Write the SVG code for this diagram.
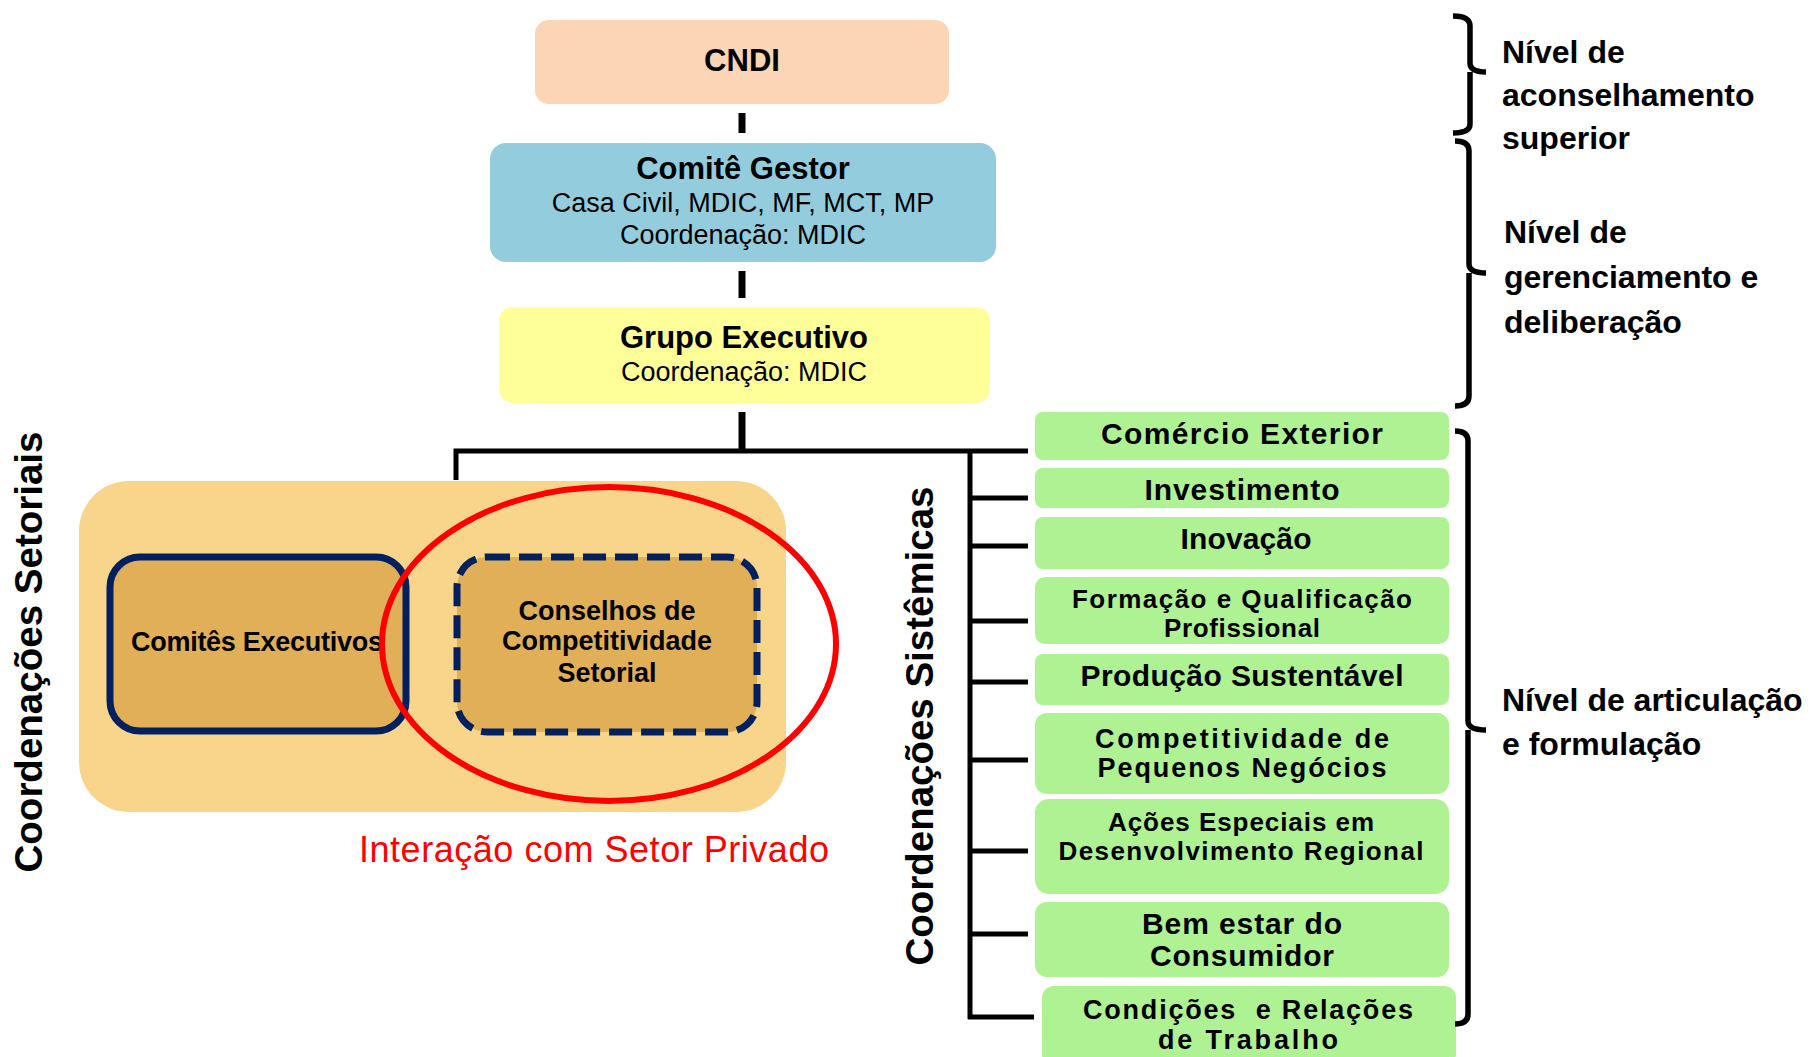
<svg xmlns="http://www.w3.org/2000/svg" width="1811" height="1057" viewBox="0 0 1811 1057">
<style>
text { font-family: "Liberation Sans", Arial, sans-serif; fill: #000; }
.title { font-size: 31px; font-weight: bold; text-anchor: middle; }
.sub { font-size: 27px; text-anchor: middle; }
.gt { font-size: 30px; font-weight: bold; text-anchor: middle; }
.g2 { font-size: 27px; font-weight: bold; text-anchor: middle; }
.gs { font-size: 26px; font-weight: bold; text-anchor: middle; }
.lvl { font-size: 32px; font-weight: bold; }
.inner { font-size: 27px; font-weight: bold; text-anchor: middle; }
.vert { font-size: 38px; font-weight: bold; text-anchor: middle; }
.green { fill: #AEF293; }
.brace { fill: none; stroke: #000; stroke-width: 5.5; stroke-linejoin: round; }
.conn { stroke: #000; fill: none; }
</style>
<rect width="1811" height="1057" fill="#FFFFFF"/>

<g id="connectors">
  <line class="conn" x1="742" y1="113" x2="742" y2="133" stroke-width="7"/>
  <line class="conn" x1="742" y1="271" x2="742" y2="298" stroke-width="7"/>
  <line class="conn" x1="742" y1="412" x2="742" y2="451" stroke-width="7"/>
  <polyline class="conn" points="456,480 456,451 1028,451" stroke-width="5"/>
  <line class="conn" x1="970" y1="451" x2="970" y2="1019" stroke-width="5"/>
  <line class="conn" x1="970" y1="498" x2="1028" y2="498" stroke-width="5"/>
  <line class="conn" x1="970" y1="546" x2="1028" y2="546" stroke-width="5"/>
  <line class="conn" x1="970" y1="621" x2="1028" y2="621" stroke-width="5"/>
  <line class="conn" x1="970" y1="682" x2="1028" y2="682" stroke-width="5"/>
  <line class="conn" x1="970" y1="760" x2="1028" y2="760" stroke-width="5"/>
  <line class="conn" x1="970" y1="851" x2="1028" y2="851" stroke-width="5"/>
  <line class="conn" x1="970" y1="934" x2="1028" y2="934" stroke-width="5"/>
  <line class="conn" x1="968" y1="1017" x2="1034" y2="1017" stroke-width="5"/>
  <line class="conn" x1="410" y1="644" x2="454" y2="644" stroke-width="1.5"/>
</g>

<g id="cndi">
  <rect x="535" y="20" width="414" height="84" rx="14" fill="#FBD5B5"/>
  <text class="title" x="742" y="71">CNDI</text>
</g>

<g id="comite-gestor">
  <rect x="490" y="143" width="506" height="119" rx="16" fill="#93CDDD"/>
  <text class="title" x="743" y="179">Comitê Gestor</text>
  <text class="sub" x="743" y="212">Casa Civil, MDIC, MF, MCT, MP</text>
  <text class="sub" x="743" y="244">Coordenação: MDIC</text>
</g>

<g id="grupo-executivo">
  <rect x="499" y="307" width="491" height="96" rx="14" fill="#FFFF99"/>
  <text class="title" x="744" y="348">Grupo Executivo</text>
  <text class="sub" x="744" y="381">Coordenação: MDIC</text>
</g>

<g id="coordenacoes-setoriais">
  <rect x="79" y="481" width="707" height="331" rx="50" fill="#F9D58C"/>
  <text class="vert" transform="translate(42,652) rotate(-90)" textLength="441" lengthAdjust="spacingAndGlyphs">Coordenações Setoriais</text>
</g>

<g id="comites-executivos">
  <rect x="110" y="557" width="296" height="174" rx="30" fill="#E0AF57" stroke="#002060" stroke-width="7"/>
  <text class="inner" x="257" y="651" textLength="252">Comitês Executivos</text>
</g>

<g id="conselhos">
  <rect x="457" y="557" width="300" height="175" rx="30" fill="#E0AF57" stroke="#002060" stroke-width="7" stroke-dasharray="23 9"/>
  <text class="inner" x="607" y="620">Conselhos de</text>
  <text class="inner" x="607" y="650">Competitividade</text>
  <text class="inner" x="607" y="682">Setorial</text>
</g>

<g id="interacao-setor-privado">
  <ellipse cx="609" cy="644" rx="227" ry="157" fill="none" stroke="#FF0000" stroke-width="6"/>
  <text x="594" y="862" font-size="36" text-anchor="middle" style="fill:#FF0000" textLength="470">Interação com Setor Privado</text>
</g>

<g id="coordenacoes-sistemicas">
  <text class="vert" transform="translate(933,726) rotate(-90)" textLength="479" lengthAdjust="spacingAndGlyphs">Coordenações Sistêmicas</text>
</g>

<g id="comercio-exterior">
  <rect class="green" x="1035" y="412" width="414" height="48" rx="8"/>
  <text class="gt" x="1242" y="444" textLength="282">Comércio Exterior</text>
</g>
<g id="investimento">
  <rect class="green" x="1035" y="468" width="414" height="40" rx="8"/>
  <text class="gt" x="1242" y="500" textLength="195">Investimento</text>
</g>
<g id="inovacao">
  <rect class="green" x="1035" y="517" width="414" height="52" rx="8"/>
  <text class="gt" x="1246" y="549" textLength="131">Inovação</text>
</g>
<g id="formacao">
  <rect class="green" x="1035" y="577" width="414" height="67" rx="10"/>
  <text class="gs" x="1242" y="608" textLength="340">Formação e Qualificação</text>
  <text class="gs" x="1242" y="637" textLength="156">Profissional</text>
</g>
<g id="producao-sustentavel">
  <rect class="green" x="1035" y="654" width="414" height="51" rx="8"/>
  <text class="gt" x="1242" y="686" textLength="323">Produção Sustentável</text>
</g>
<g id="competitividade-pequenos">
  <rect class="green" x="1035" y="713" width="414" height="81" rx="12"/>
  <text class="g2" x="1242" y="748" textLength="294">Competitividade de</text>
  <text class="g2" x="1242" y="777" textLength="289">Pequenos Negócios</text>
</g>
<g id="acoes-especiais">
  <rect class="green" x="1035" y="799" width="414" height="95" rx="14"/>
  <text class="gs" x="1241" y="831" textLength="266">Ações Especiais em</text>
  <text class="gs" x="1241" y="860" textLength="365">Desenvolvimento Regional</text>
</g>
<g id="bem-estar">
  <rect class="green" x="1035" y="902" width="414" height="75" rx="12"/>
  <text class="gt" x="1242" y="934" textLength="200">Bem estar do</text>
  <text class="gt" x="1242" y="966" textLength="184">Consumidor</text>
</g>
<g id="condicoes-trabalho">
  <rect class="green" x="1042" y="986" width="414" height="80" rx="12"/>
  <text class="g2" x="1248" y="1019" textLength="330" xml:space="preserve">Condições  e Relações</text>
  <text class="g2" x="1248" y="1049" textLength="180">de Trabalho</text>
</g>

<g id="nivel-aconselhamento">
  <path class="brace" d="M1453,16 Q1470,16 1470,26 L1470,63 Q1470,72 1486,72 M1470,72 L1470,124 Q1470,133 1453,133"/>
  <text class="lvl" x="1502" y="63">Nível de</text>
  <text class="lvl" x="1502" y="106">aconselhamento</text>
  <text class="lvl" x="1502" y="149">superior</text>
</g>

<g id="nivel-gerenciamento">
  <path class="brace" d="M1455,141 Q1469,141 1469,151 L1469,264 Q1469,273 1486,273 M1469,273 L1469,396 Q1469,406 1455,406"/>
  <text class="lvl" x="1504" y="243">Nível de</text>
  <text class="lvl" x="1504" y="288">gerenciamento e</text>
  <text class="lvl" x="1504" y="333">deliberação</text>
</g>

<g id="nivel-articulacao">
  <path class="brace" d="M1455,431 Q1468,431 1468,441 L1468,721 Q1468,730 1486,730 M1468,730 L1468,1014 Q1468,1024 1455,1024"/>
  <text class="lvl" x="1502" y="711">Nível de articulação</text>
  <text class="lvl" x="1502" y="755">e formulação</text>
</g>
</svg>
